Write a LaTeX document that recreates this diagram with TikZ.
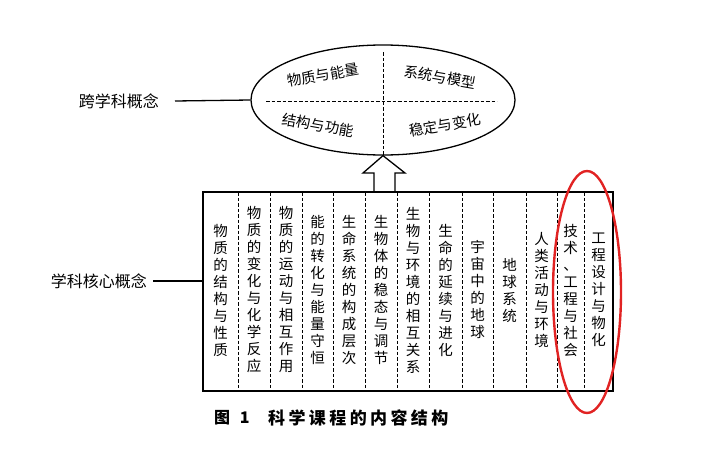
\documentclass[tikz,border=0pt]{standalone}
\usepackage{fontspec}
\newfontfamily\cjk{Noto Sans CJK SC}
\usetikzlibrary{shapes.geometric}
\definecolor{markred}{RGB}{225, 35, 35}

\begin{document}
\begin{tikzpicture}[x=1pt, y=-1pt,
    col/.style={align=center, inner sep=0pt, font=\cjk\fontsize{14.5}{17}\selectfont},
    quad/.style={inner sep=0pt, font=\cjk\fontsize{14.5}{16}\selectfont},
    lab/.style={inner sep=0pt, font=\cjk\fontsize{16}{18}\selectfont},
    sep/.style={dash pattern=on 3.5pt off 2pt, line width=0.9pt},
    rule/.style={line width=1.3pt}]
    \useasboundingbox (0,0) rectangle (702,450);

    % Cross-cutting concepts
    \node[ellipse, draw, rule, minimum width=264, minimum height=110] (cross) at (383,100) {};
    \draw[sep] (266,101) -- (497,101);
    \draw[sep] (383,52) -- (cross.south);
    \node[quad, rotate=10] (q1) at (323,75) {物质与能量};
    \node[quad, rotate=-10] (q2) at (440,77) {系统与模型};
    \node[quad, rotate=-10] (q3) at (318,125) {结构与功能};
    \node[quad, rotate=10] (q4) at (445,125) {稳定与变化};
    \node[lab, anchor=east] (crosslab) at (159,101) {跨学科概念};
    \draw[rule] (175,101) -- (cross.west);

    % Arrow
    \draw[rule] (374,192) -- (374,173) -- (363,173) -- (cross.south)
        -- (405,173) -- (395,173) -- (395,192);

    % Core concepts
    \node[draw, rule, minimum width=410, minimum height=199] (core) at (408,291.5) {};
    \node[lab, anchor=east] (corelab) at (147,281) {学科核心概念};
    \draw[rule] (153,281) -- (core.west |- corelab.east);
    \draw[sep] (238,192) -- (238,391);
    \draw[sep] (270,192) -- (270,391);
    \draw[sep] (302,192) -- (302,391);
    \draw[sep] (333,192) -- (333,391);
    \draw[sep] (365,192) -- (365,391);
    \draw[sep] (397,192) -- (397,391);
    \draw[sep] (429,192) -- (429,391);
    \draw[sep] (462,192) -- (462,391);
    \draw[sep] (493,192) -- (493,391);
    \draw[sep] (526,192) -- (526,391);
    \draw[sep] (557,192) -- (557,391);
    \draw[sep] (584,192) -- (584,391);
    \node[col] (c1) at (220.5,290) {物\\质\\的\\结\\构\\与\\性\\质};
    \node[col] (c2) at (254,290) {物\\质\\的\\变\\化\\与\\化\\学\\反\\应};
    \node[col] (c3) at (286,290) {物\\质\\的\\运\\动\\与\\相\\互\\作\\用};
    \node[col] (c4) at (317.5,290) {能\\的\\转\\化\\与\\能\\量\\守\\恒};
    \node[col] (c5) at (349,290) {生\\命\\系\\统\\的\\构\\成\\层\\次};
    \node[col] (c6) at (381,290) {生\\物\\体\\的\\稳\\态\\与\\调\\节};
    \node[col] (c7) at (413,290) {生\\物\\与\\环\\境\\的\\相\\互\\关\\系};
    \node[col] (c8) at (445.5,290) {生\\命\\的\\延\\续\\与\\进\\化};
    \node[col] (c9) at (477.5,290) {宇\\宙\\中\\的\\地\\球};
    \node[col] (c10) at (509.5,290) {地\\球\\系\\统};
    \node[col] (c11) at (541.5,290) {人\\类\\活\\动\\与\\环\\境};
    \node[col] (c12) at (570.5,290) {技\\术\\、\\工\\程\\与\\社\\会};
    \node[col] (c13) at (598.5,290) {工\\程\\设\\计\\与\\物\\化};

    % Highlight
    \node[ellipse, draw=markred, line width=2.4pt, minimum width=68, minimum height=242] (mark) at (587,292) {};

    % Caption
    \node[inner sep=0pt, anchor=west, font=\cjk\bfseries\fontsize{16}{18}\selectfont] (capnum) at (214,418) {图\hspace{0.6em}1};
    \node[inner sep=0pt, anchor=west, font=\cjk\bfseries\fontsize{17}{18}\selectfont\addfontfeature{LetterSpace=20}] (captext) at (268,418) {科学课程的内容结构};
\end{tikzpicture}
\end{document}
